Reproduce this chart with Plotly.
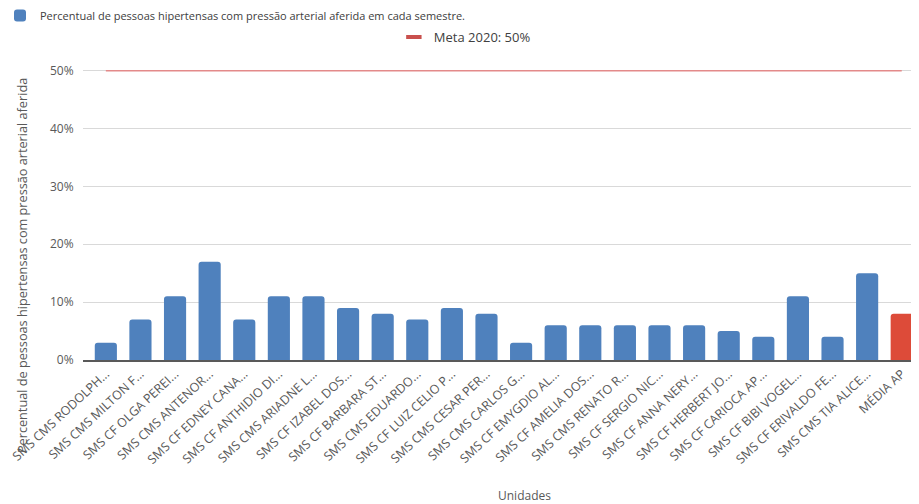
import plotly.graph_objects as go

UNIDADES = [
    "SMS CMS RODOLPH...", "SMS CMS MILTON F...", "SMS CF OLGA PEREI...",
    "SMS CMS ANTENOR...", "SMS CF EDNEY CANA...", "SMS CF ANTHIDIO DI...",
    "SMS CMS ARIADNE L...", "SMS CF IZABEL DOS...", "SMS CF BARBARA ST...",
    "SMS CMS EDUARDO...", "SMS CF LUIZ CELIO P...", "SMS CMS CESAR PER...",
    "SMS CMS CARLOS G...", "SMS CF EMYGDIO AL...", "SMS CF AMELIA DOS...",
    "SMS CMS RENATO R...", "SMS CF SERGIO NIC...", "SMS CF ANNA NERY...",
    "SMS CF HERBERT JO...", "SMS CF CARIOCA AP...", "SMS CF BIBI VOGEL...",
    "SMS CF ERIVALDO FE...", "SMS CMS TIA ALICE...", "MÉDIA AP",
]
PERCENTUAL = [3, 7, 11, 17, 7, 11, 11, 9, 8, 7, 9, 8, 3, 6, 6, 6, 6, 6, 5, 4, 11, 4, 15, 8]
META = [50] * len(UNIDADES)

BLUE = "#4f81bd"
RED_BAR = "#dd4b39"
RED_LINE = "#e38a8a"
RED_KEY = "#c9504d"
TEXT = "#595959"

bar_colors = [RED_BAR if u == "MÉDIA AP" else BLUE for u in UNIDADES]

fig = go.Figure()
fig.add_trace(go.Bar(
    x=UNIDADES,
    y=PERCENTUAL,
    name="Percentual de pessoas hipertensas com pressão arterial aferida em cada semestre.",
    marker=dict(color=bar_colors, cornerradius=3, line=dict(width=0)),
    width=0.64,
    legend="legend",
))
fig.add_trace(go.Scatter(
    x=UNIDADES,
    y=META,
    mode="lines",
    name="Meta 2020: 50%",
    line=dict(color=RED_LINE, width=1.5),
    showlegend=False,
))
# legend-only entry for the goal line (short thick key like the original)
fig.add_trace(go.Scatter(
    x=[None], y=[None],
    mode="markers",
    name="Meta 2020: 50%",
    marker=dict(symbol="line-ew-open", size=11, color=RED_KEY,
                line=dict(color=RED_KEY, width=4)),
    legend="legend2",
))

# page body has an 8px margin, so the figure is 8px smaller than the window
fig.update_layout(
    width=911,
    height=496,
    margin=dict(l=75, r=1, t=61, b=144, autoexpand=False),
    paper_bgcolor="white",
    plot_bgcolor="white",
    font=dict(family="Open Sans", size=12, color=TEXT),
    showlegend=True,
    legend=dict(
        xref="paper", yref="paper", x=-0.0994, y=1.234,
        xanchor="left", yanchor="top",
        font=dict(size=11, color="#404040"),
        bgcolor="rgba(0,0,0,0)",
    ),
    legend2=dict(
        xref="container", yref="container", x=0.5015, y=0.9415,
        xanchor="center", yanchor="middle",
        font=dict(size=13, color="#404040"),
        bgcolor="rgba(0,0,0,0)",
        itemwidth=30,
    ),
    bargap=0.36,
)
fig.update_xaxes(
    automargin=False,
    range=[-0.66, 23.47],
    tickangle=-43,
    tickfont=dict(size=12.5, color=TEXT),
    showgrid=False,
    showline=True,
    linecolor="#595959",
    linewidth=1.5,
    ticks="",
)
fig.update_yaxes(
    automargin=False,
    range=[0, 50.3],
    tickvals=[0, 10, 20, 30, 40, 50],
    ticktext=["0%", "10%", "20%", "30%", "40%", "50%"],
    tickfont=dict(size=12, color=TEXT),
    showgrid=True,
    gridcolor="#d9d9d9",
    gridwidth=1,
    zeroline=False,
    ticks="outside",
    ticklen=6,
    tickcolor="rgba(0,0,0,0)",
)
fig.add_annotation(
    text="Percentual de pessoas hipertensas com pressão arterial aferida",
    xref="paper", yref="paper",
    x=-0.073, y=0.323,
    xanchor="center", yanchor="middle",
    textangle=-90,
    showarrow=False,
    font=dict(size=12.7, color=TEXT),
)
fig.add_annotation(
    text="Unidades",
    xref="paper", yref="paper",
    x=0.529, y=-0.464,
    xanchor="center", yanchor="middle",
    showarrow=False,
    font=dict(size=12, color=TEXT),
)

fig.write_html("out.html")
